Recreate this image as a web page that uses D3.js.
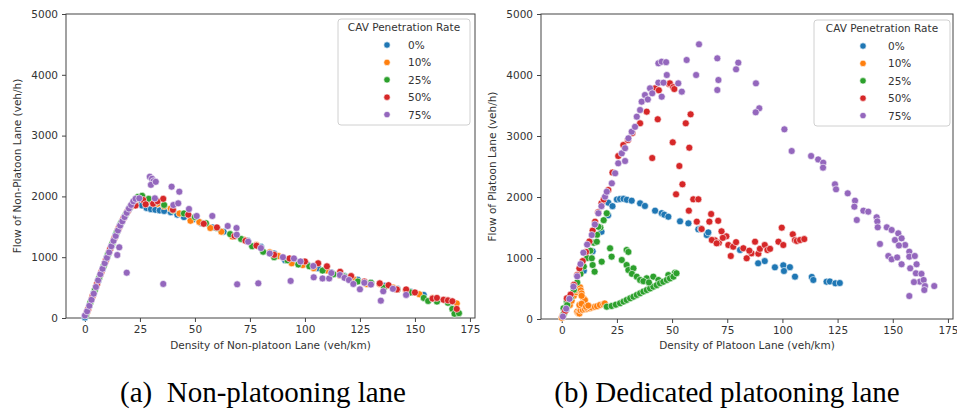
<!DOCTYPE html>
<html>
<head>
<meta charset="utf-8">
<script src="https://cdn.jsdelivr.net/npm/d3@7"></script>
<style>
  body { margin: 0; background: #fff; }
  svg text { font-family: "DejaVu Sans", sans-serif; }
</style>
</head>
<body>
<div id="chart"></div>
<script>
const width = 957;
const height = 414;

const rateLabels = ["0%", "10%", "25%", "50%", "75%"];
const rateColors = ["#1f77b4", "#ff7f0e", "#2ca02c", "#d62728", "#9467bd"];
const densityTicks = [0, 25, 50, 75, 100, 125, 150, 175];
const flowTicks = [0, 1000, 2000, 3000, 4000, 5000];

// (a) non-platooning lane: [density veh/km, flow veh/h]
const nonPlatoon0 = [[0,10],[2,200],[4,410],[6,610],[8,800],[10,1000],[12,1190],[14,1370],[16,1530],[18,1670],[20,1790],[22,1870],[24,1900],[26,1850],[28,1810],[30,1790],[32,1780],[34,1770],[36,1760],[39,1740],[42,1700],[45,1660],[49,1620],[53,1560],[58,1490],[63,1420],[68,1350],[74,1270],[80,1170],[86,1060],[91,950],[96,920],[101,880],[106,820],[112,750],[118,690],[124,630],[130,580],[136,530],[142,480],[148,430],[154,380],[160,310],[166,250]];
const nonPlatoon10 = [[1,100],[3,310],[5,510],[7,710],[9,900],[11,1090],[13,1280],[15,1450],[17,1600],[19,1730],[21,1840],[23,1930],[25,1980],[27,1960],[30,1930],[33,1880],[36,1840],[39,1800],[43,1720],[48,1600],[52,1580],[57,1480],[62,1420],[67,1340],[72,1290],[78,1200],[84,1080],[88,1020],[94,900],[99,870],[104,820],[110,780],[116,700],[122,640],[128,560],[134,560],[140,500],[146,450],[152,390],[158,330],[164,290],[169,240]];
const nonPlatoon25 = [[0.5,50],[2.5,260],[4.5,460],[6.5,660],[8.5,850],[10.5,1050],[12.5,1230],[14.5,1410],[16.5,1570],[18.5,1700],[20.5,1820],[22.5,1920],[24,1990],[26,2010],[29,1960],[32,1900],[36,1860],[40,1770],[45,1720],[50,1660],[55,1560],[60,1480],[66,1380],[71,1300],[76,1180],[81,1090],[86,1000],[92,950],[97,880],[102,850],[108,780],[113,720],[118,680],[124,600],[130,580],[136,500],[142,470],[148,420],[154,330],[156,280],[160,270],[165,250],[167,150],[168,70],[170,80]];
const nonPlatoon50 = [[1.5,150],[3.5,360],[5.5,560],[7.5,760],[9.5,950],[11.5,1140],[13.5,1320],[15.5,1490],[17.5,1640],[19.5,1760],[21.5,1860],[23,1850],[26.5,1940],[27.6,1870],[31,1880],[33,1920],[35.6,1960],[40,1780],[47,1700],[54,1550],[60,1490],[68,1350],[73,1270],[78,1190],[86,1040],[93,980],[100,930],[106,900],[110,850],[116,760],[121,690],[127,600],[134,570],[138,540],[141.8,470],[146,470],[150,420],[158,320],[160,330],[163,300],[165,290],[167,275],[169,150]];
const nonPlatoon75 = [[0,40],[1,110],[2,200],[3,300],[4,400],[5,510],[6,620],[7,720],[8,810],[9,900],[10,990],[11,1080],[12,1180],[13,1270],[14,1350],[15,1440],[16,1520],[17,1590],[18,1660],[19,1730],[20,1800],[21,1860],[22,1920],[23,1960],[24.7,1968],[14.7,1036],[15.6,1163],[19,745],[35.6,560],[69.2,554],[78.8,570],[93.5,610],[134.5,285],[29.5,2324],[30.5,2290],[31.2,2250],[30,2190],[32.2,2240],[39.4,2160],[42.9,2077],[31.8,1968],[40.2,1858],[42.4,1886],[47.3,1793],[50.8,1678],[57.9,1678],[64.9,1513],[68.9,1480],[69,1370],[74.2,1255],[80,1150],[84,1060],[90,1000],[95,980],[98,930],[103.8,855],[104,669],[108,650],[111,650],[112,740],[115.9,707],[118,660],[120,625],[122,560],[125,472],[127,580],[130,550],[135.6,440],[140,480],[146,380]];

// (b) dedicated platooning lane
const platoon0 = [[2,150],[6,470],[10,790],[14,1110],[18,1430],[21,1700],[21.1,1907],[23,1850],[25,1960],[26.4,1967],[28,1970],[29.5,1955],[31.7,1940],[35.5,1896],[37.7,1853],[42.3,1776],[45.3,1735],[46.5,1710],[48.3,1677],[53.6,1601],[57.4,1568],[61.9,1470],[63,1480],[65.7,1377],[66.4,1420],[80.8,1131],[89,913],[92,950],[96.6,847],[100.4,880],[100.7,787],[103.4,850],[105.7,694],[113.3,690],[114,640],[120,612],[121.5,615],[124,585],[126,590]];
const platoon10 = [[0,20],[0.5,60],[1.5,140],[2.5,200],[3.7,230],[4.5,300],[5.5,380],[6.5,440],[6.8,475],[8.3,520],[8.6,470],[9,420],[9.8,340],[10.5,310],[9,380],[7,120],[7.5,100],[8,90],[8.5,140],[9.5,150],[10.5,160],[11.5,170],[12.8,175],[13.5,190],[15,200],[16,210],[17.3,230],[18.8,240],[19.5,255],[8,230],[9,250],[11,200],[12,220]];
const platoon25 = [[0.8,175],[1,90],[2.3,284],[2.5,230],[4,350],[5.5,480],[7,600],[8.5,740],[10,860],[11.5,1000],[13,1120],[14.5,1250],[16,1380],[17.5,1500],[19,1620],[20.4,1733],[16.6,1513],[15.9,1267],[13.6,995],[14,885],[14.9,776],[18.1,940],[21.9,1159],[22.6,1022],[29.4,1131],[30.2,1100],[27.2,967],[29.4,885],[30.2,803],[32.5,830],[31.8,740],[34,694],[35.5,640],[38.5,667],[41.5,694],[43.8,640],[48.3,721],[51.3,760],[20.4,202],[22.6,213],[24.5,235],[26.4,257],[28,285],[29.4,312],[31,340],[32.5,366],[34,395],[35.5,421],[37,450],[38.5,475],[40,500],[41.5,530],[43,555],[44.5,585],[46,610],[47.6,640],[49,665],[50.6,694],[52,750],[37,620],[39.5,600]];
const platoon50 = [[1.5,130],[2.3,339],[4,400],[5.5,560],[7,720],[8,830],[9.5,950],[11,1100],[12.5,1270],[14,1450],[15.1,1596],[16.5,1750],[18,1896],[19,1960],[21.1,2115],[23,2400],[25.6,2672],[27.9,2852],[30,2934],[32,3050],[35.5,3208],[38.5,3399],[42.3,3782],[44,3750],[48.6,3852],[49,3863],[50.5,3800],[51,3770],[43.5,3274],[41,2639],[50.3,2896],[53.3,2508],[54.7,2208],[56.2,3208],[58.4,3355],[57.8,2808],[51.8,2044],[59.6,1962],[61.9,1962],[57.6,1776],[61.2,1596],[63.4,1475],[67.7,1721],[66.9,1596],[70.9,1610],[72.4,1437],[74.6,1355],[69.4,1290],[71.2,1250],[68,1295],[70.2,1240],[75.5,1213],[77.7,1185],[76.6,1033],[82.3,1160],[83.8,995],[86,1076],[87.6,1267],[89.1,1071],[89.8,1150],[92,1213],[93.2,1131],[94.4,1150],[98.2,1267],[99.7,1497],[100.4,1213],[104.7,1388],[105.7,1295],[106.5,1280],[108,1295],[109.9,1310],[73,1330],[79,1260],[85,1120]];
const platoon75 = [[0.5,40],[2,170],[3.5,330],[5.3,530],[7,700],[8.5,900],[9.8,1087],[11.5,1220],[13.6,1377],[15,1550],[16.6,1733],[18,1850],[19.6,2005],[20.4,2087],[22.7,2224],[24.2,2389],[25.6,2552],[28.7,2590],[27.2,2716],[28.7,2800],[30.2,2962],[31.7,3071],[33.2,3150],[34,3317],[35.5,3426],[36.2,3563],[37.7,3672],[39,3600],[40,3782],[41,3700],[43.8,3874],[45.3,3644],[46.1,3874],[47.6,4000],[43.8,4192],[45.3,4218],[47.3,4210],[52.8,3863],[54.4,3727],[56.6,4246],[62.2,4503],[60.9,4000],[70.5,4273],[71,3918],[70.5,3754],[80,4202],[79,4093],[88,3863],[89.5,3454],[87.9,3388],[100.9,3109],[104.2,2754],[113,2672],[116.2,2616],[118.5,2563],[118.4,2481],[123.8,2208],[124.3,2126],[129.6,2060],[132.9,1940],[132.6,1841],[136.7,1776],[138.9,1760],[133.7,1623],[142.7,1667],[143,1600],[143.2,1503],[147.3,1503],[149.5,1459],[152.5,1404],[151,1295],[154,1322],[155.6,1213],[152.8,1205],[144.2,1230],[148,1033],[149.5,978],[152,1010],[157.5,1103],[157.5,1022],[160,1033],[160.8,897],[154,897],[157.9,831],[160.5,749],[163,740],[162.3,612],[159.6,605],[164,640],[164.6,540],[164.3,475],[168.8,540],[157.5,377]];

const panels = [
    {
        series: [nonPlatoon0, nonPlatoon10, nonPlatoon25, nonPlatoon50, nonPlatoon75],
        left: 66, right: 475, top: 14, bottom: 318,
        xDomain: [-8.6, 177.3],
        xLabel: "Density of Non-platoon Lane (veh/km)",
        yLabel: "Flow of Non-Platoon Lane (veh/h)",
        yLabelX: 17,
        legend: { x: 338, y: 19, w: 132, h: 106, marker: 387, text: 408 },
        caption: "(a)  Non-platooning lane", captionX: 263
    },
    {
        series: [platoon0, platoon10, platoon25, platoon50, platoon75],
        left: 541, right: 953, top: 14, bottom: 319,
        xDomain: [-9.4, 177.3],
        xLabel: "Density of Platoon Lane (veh/km)",
        yLabel: "Flow of Platoon Lane (veh/h)",
        yLabelX: 492,
        legend: { x: 814, y: 20, w: 136, h: 106, marker: 863, text: 888 },
        caption: "(b) Dedicated platooning lane", captionX: 727
    }
];

const svg = d3.select("#chart")
    .append("svg")
    .attr("width", width)
    .attr("height", height);

function drawPanel(p) {
    const g = svg.append("g");

    const x = d3.scaleLinear().domain(p.xDomain).range([p.left, p.right]);
    const y = d3.scaleLinear().domain([0, 5000]).range([p.bottom, p.top]);

    const xAxis = g.append("g")
        .attr("transform", `translate(0,${p.bottom})`)
        .call(d3.axisBottom(x).tickValues(densityTicks).tickFormat(d3.format("d")).tickSize(4).tickPadding(4));
    const yAxis = g.append("g")
        .attr("transform", `translate(${p.left},0)`)
        .call(d3.axisLeft(y).tickValues(flowTicks).tickFormat(d3.format("d")).tickSize(4).tickPadding(4));

    [xAxis, yAxis].forEach(a => {
        a.select(".domain").remove();
        a.selectAll(".tick line").attr("stroke", "#444");
        a.selectAll(".tick text")
            .attr("fill", "#333")
            .style("font-size", "10.5px")
            .style("font-family", "DejaVu Sans");
    });

    g.append("rect")
        .attr("x", p.left)
        .attr("y", p.top)
        .attr("width", p.right - p.left)
        .attr("height", p.bottom - p.top)
        .attr("fill", "none")
        .attr("stroke", "#444")
        .attr("stroke-width", 1);

    p.series.forEach((data, i) => {
        g.append("g")
            .selectAll("circle")
            .data(data)
            .enter()
            .append("circle")
            .attr("cx", d => x(d[0]))
            .attr("cy", d => y(d[1]))
            .attr("r", 3.5)
            .attr("fill", rateColors[i])
            .attr("stroke", "#fff")
            .attr("stroke-width", 0.6);
    });

    g.append("text")
        .attr("x", (p.left + p.right) / 2)
        .attr("y", 349)
        .attr("text-anchor", "middle")
        .attr("fill", "#333")
        .style("font-size", "10.5px")
        .text(p.xLabel);

    g.append("text")
        .attr("transform", `translate(${p.yLabelX + 4},${(p.top + p.bottom) / 2}) rotate(-90)`)
        .attr("text-anchor", "middle")
        .attr("fill", "#333")
        .style("font-size", "10.5px")
        .text(p.yLabel);

    // legend
    const lg = p.legend;
    const leg = g.append("g");
    leg.append("rect")
        .attr("x", lg.x)
        .attr("y", lg.y)
        .attr("width", lg.w)
        .attr("height", lg.h)
        .attr("rx", 3)
        .attr("fill", "#fff")
        .attr("fill-opacity", 0.8)
        .attr("stroke", "#d0d0d0");
    leg.append("text")
        .attr("x", lg.x + lg.w / 2)
        .attr("y", lg.y + 12)
        .attr("text-anchor", "middle")
        .attr("fill", "#333")
        .style("font-size", "10.5px")
        .text("CAV Penetration Rate");
    rateLabels.forEach((label, i) => {
        const cy = lg.y + 26 + i * 17.4;
        leg.append("circle")
            .attr("cx", lg.marker)
            .attr("cy", cy)
            .attr("r", 3.2)
            .attr("fill", rateColors[i])
            .attr("stroke", "#fff")
            .attr("stroke-width", 0.6);
        leg.append("text")
            .attr("x", lg.text)
            .attr("y", cy + 4)
            .attr("fill", "#333")
            .style("font-size", "10.5px")
            .text(label);
    });

    g.append("text")
        .attr("x", p.captionX)
        .attr("y", 402)
        .attr("text-anchor", "middle")
        .attr("fill", "#000")
        .style("font-family", "'Liberation Serif', 'Times New Roman', serif")
        .style("font-size", "29px")
        .style("white-space", "pre")
        .text(p.caption);
}

panels.forEach(drawPanel);
</script>
</body>
</html>
